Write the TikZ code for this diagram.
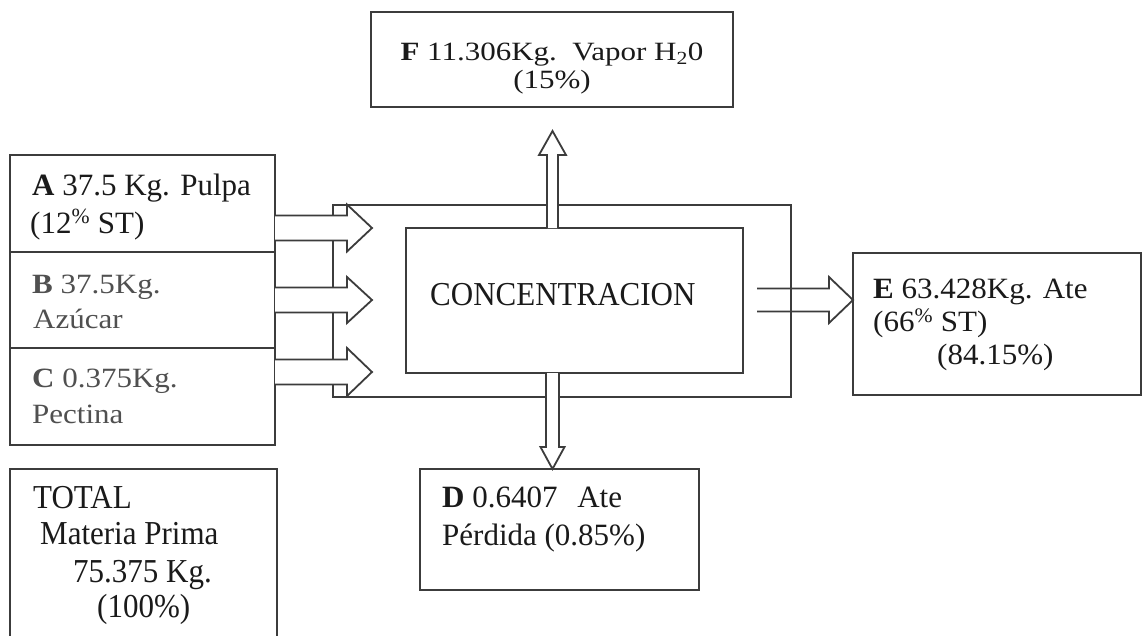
\documentclass[tikz,border=0pt]{standalone}
\usepackage{fontspec}
\setmainfont{Liberation Serif}
\usetikzlibrary{calc}
\definecolor{linegray}{HTML}{3C3C3C}
\definecolor{txtdark}{HTML}{1A1A1A}
\definecolor{txtgray}{HTML}{505050}
\tikzset{
  box/.style={draw=linegray, line width=2pt, anchor=north west, inner sep=0pt, outer sep=0pt},
  arrowline/.style={draw=linegray, line width=1.8pt, fill=white, line join=miter},
  txt/.style={anchor=base west, inner sep=0pt, text=txtdark, font=\fontsize{31}{31}\selectfont},
  txtc/.style={anchor=base, inner sep=0pt, text=txtdark, font=\fontsize{31}{31}\selectfont},
  txtg/.style={txt, text=txtgray}
}
\newcommand\vs[2]{\scalebox{1}[#1]{#2}}
% horizontal block arrow: start, tip, shaft half width, head half width, head length
\newcommand\hblockarrow[5]{%
  \draw[arrowline] ($(#1)+(0,-#3)$) -- ($(#2)+(-#5,-#3)$) -- ($(#2)+(-#5,-#4)$) -- (#2)
    -- ($(#2)+(-#5,#4)$) -- ($(#2)+(-#5,#3)$) -- ($(#1)+(0,#3)$);}
% vertical block arrow pointing up (towards smaller pixel y)
\newcommand\upblockarrow[5]{%
  \draw[arrowline] ($(#1)+(-#3,0)$) -- ($(#2)+(-#3,#5)$) -- ($(#2)+(-#4,#5)$) -- (#2)
    -- ($(#2)+(#4,#5)$) -- ($(#2)+(#3,#5)$) -- ($(#1)+(#3,0)$);}
% vertical block arrow pointing down (towards larger pixel y)
\newcommand\downblockarrow[5]{%
  \draw[arrowline] ($(#1)+(-#3,0)$) -- ($(#2)+(-#3,-#5)$) -- ($(#2)+(-#4,-#5)$) -- (#2)
    -- ($(#2)+(#4,-#5)$) -- ($(#2)+(#3,-#5)$) -- ($(#1)+(#3,0)$);}
\begin{document}
\begin{tikzpicture}[x=1pt,y=-1pt]
\useasboundingbox (0,0) rectangle (1143,635);
\fill[white] (0,0) rectangle (1143,635);

% boxes
\node[box, minimum width=265pt, minimum height=97pt] (A) at (10,155) {};
\node[box, minimum width=265pt, minimum height=96pt] (B) at (10,252) {};
\node[box, minimum width=265pt, minimum height=97pt] (C) at (10,348) {};
\node[box, minimum width=267pt, minimum height=185pt] (T) at (10,469) {};
\node[box, minimum width=362pt, minimum height=95pt] (F) at (371,12) {};
\node[box, minimum width=458pt, minimum height=192pt] (outer) at (333,205) {};
\node[box, minimum width=337pt, minimum height=145pt] (conc) at (406,228) {};
\node[box, minimum width=279pt, minimum height=121pt] (D) at (420,469) {};
\node[box, minimum width=288pt, minimum height=142pt] (E) at (853,253) {};

% connector end points
\coordinate (aS) at (A.east |- 0,228);
\coordinate (aT) at (372,228);
\coordinate (bS) at (B.east |- 0,300);
\coordinate (bT) at (372,300);
\coordinate (cS) at (C.east |- 0,372);
\coordinate (cT) at (372,372);
\coordinate (fS) at (conc.north -| 552.5,0);
\coordinate (fT) at (552.5,131);
\coordinate (dS) at (conc.south -| 552.5,0);
\coordinate (dT) at (D.north -| 552.5,0);
\coordinate (eS) at (757,300);
\coordinate (eT) at (E.west |- 0,300);

% arrows
\hblockarrow{eS}{eT}{11.5}{23}{24}
\draw[linegray, line width=2pt] (outer.north east) -- (outer.south east);
\hblockarrow{aS}{aT}{12.5}{23.5}{25}
\hblockarrow{bS}{bT}{12.5}{23}{25}
\hblockarrow{cS}{cT}{12.5}{24}{25}
\upblockarrow{fS}{fT}{5.5}{13.5}{24}
\downblockarrow{dS}{dT}{6.5}{12}{22}

% texts
\node[txt] (a1) at (32,195) {\vs{1.0}{\textbf{A} 37.5 Kg. Pulpa}};
\node[txt] (a2) at (30,233) {\vs{1.0}{(12\textsuperscript{\%} ST)}};
\node[txtg] (b1) at (32,293) {\vs{0.9}{\textbf{B} 37.5Kg.}};
\node[txtg] (b2) at (33,328) {\vs{0.9}{Azúcar}};
\node[txtg] (c1) at (32,387) {\vs{0.9}{\textbf{C} 0.375Kg.}};
\node[txtg] (c2) at (32,423) {\vs{0.9}{Pectina}};
\node[txtc] (f1) at (552,60) {\vs{0.85}{\textbf{F} 11.306Kg.\ \ Vapor H\textsubscript{2}0}};
\node[txtc] (f2) at (552,88) {\vs{0.85}{(15\%)}};
\node[txt] (cc) at (430,305) {\vs{1.08}{CONCENTRACION}};
\node[txt] (e1) at (873,298) {\vs{0.95}{\textbf{E} 63.428Kg. Ate}};
\node[txt] (e2) at (873,331) {\vs{0.95}{(66\textsuperscript{\%} ST)}};
\node[txt] (e3) at (937,364) {\vs{0.95}{(84.15\%)}};
\node[txt] (d1) at (442,507) {\vs{1.0}{\textbf{D} 0.6407\hspace{12pt} Ate}};
\node[txt] (d2) at (442,545) {\vs{1.0}{Pérdida (0.85\%)}};
\node[txt] (t1) at (33,508) {\vs{1.08}{TOTAL}};
\node[txt] (t2) at (40,544) {\vs{1.08}{Materia Prima}};
\node[txt] (t3) at (73,582) {\vs{1.08}{75.375 Kg.}};
\node[txt] (t4) at (97,617) {\vs{1.08}{(100\%)}};
\end{tikzpicture}
\end{document}
